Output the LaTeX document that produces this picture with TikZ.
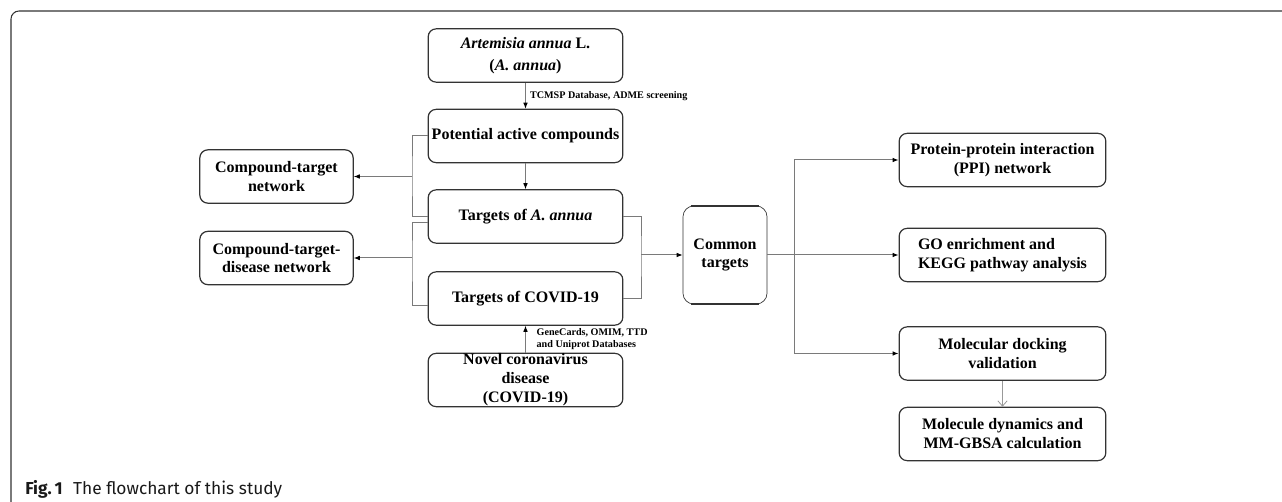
\documentclass[tikz,border=0pt]{standalone}
\usepackage{fontspec}
\setmainfont{Liberation Serif}
\newfontfamily\capfont{Fira Sans}
\usetikzlibrary{arrows.meta,calc,positioning}
\definecolor{edge}{HTML}{7A7A7A}
\definecolor{rim}{HTML}{333333}

\begin{document}
\begin{tikzpicture}[x=0.75pt,y=-0.75pt,
  box/.style={rectangle,draw=rim,line width=0.9pt,rounded corners=6pt,align=center,font=\bfseries\fontsize{12}{14.2}\selectfont,inner sep=0pt,minimum height=40pt},
  mainbox/.style={box,minimum width=146pt},
  sidebox/.style={box,minimum width=115pt},
  resbox/.style={box,minimum width=155pt},
  link/.style={draw=edge,line width=0.75pt},
  arrow/.style={link,-{Latex[length=4.5pt,width=3.5pt,color=black]}},
  thinarrow/.style={draw=black!40,line width=0.6pt,-{Straight Barb[length=4pt,width=7pt]}},
  lbl/.style={font=\bfseries\fontsize{7.6}{9}\selectfont,align=left,inner sep=1pt},
  capt/.style={font=\capfont\fontsize{13}{15}\selectfont,inner sep=0pt,text=black!90},
]
\useasboundingbox (0,0) rectangle (1282,502);
% frame of the figure
\draw[rim,line width=0.8pt,rounded corners=6pt] (11,502) -- (11,11) -- (1282,11);

% CENTRE COLUMN
\node[mainbox] (art) at (525.5,55.5) {\textit{Artemisia annua} L.\\[2pt](\textit{A. annua})};
\node[mainbox] (pac) at (525.5,136) {Potential active compounds};
\node[mainbox] (taa) at (525.5,216.5) {Targets of \textit{A. annua}};
\node[mainbox] (tcv) at (525.5,298.5) {Targets of COVID-19};
\node[mainbox] (ncd) at (525.5,380) {Novel coronavirus\\disease\\(COVID-19)};

% NETWORKS ON THE LEFT
\node[sidebox] (ctn) at (276.5,176.5) {Compound-target\\network};
\node[sidebox] (ctdn) at (276.5,258) {Compound-target-\\disease network};

% COMMON TARGETS
\node[box,rounded corners=8pt,line width=0.5pt,minimum width=63pt,minimum height=73.5pt] (com) at (725,255) {Common\\targets};
\draw[rim,line width=1.3pt] ([xshift=6pt]com.north west) -- ([xshift=-6pt]com.north east);
\draw[rim,line width=1.3pt] ([xshift=6pt]com.south west) -- ([xshift=-6pt]com.south east);

% ANALYSES ON THE RIGHT
\node[resbox] (ppi) at (1002.5,160) {Protein-protein interaction\\(PPI) network};
\node[resbox,align=left] (go) at (1002.5,255) {GO enrichment and\\KEGG pathway analysis};
\node[resbox] (dock) at (1002.5,353.5) {Molecular docking\\validation};
\node[resbox] (md) at (1002.5,434) {Molecule dynamics and\\MM-GBSA calculation};

% junctions
\coordinate (jl1) at (412,176.5);
\coordinate (jl2) at (412,258);
\coordinate (jr) at (641,255);
\coordinate (jf) at (794,255);

% EDGES
\draw[arrow] (art) -- (pac) node[lbl,midway,right,xshift=2pt]{TCMSP Database, ADME screening};
\draw[arrow] (pac) -- (taa);
\draw[arrow] (ncd) -- (tcv) node[lbl,midway,right,xshift=7pt]{GeneCards, OMIM, TTD\\and Uniprot Databases};
\draw[link] (pac.west) -| (jl1) |- (taa.west);
\draw[link] ([yshift=-4.5pt]taa.west) -| (jl2) |- ([yshift=-5pt]tcv.west);
\draw[arrow] (jl1) -- (ctn);
\draw[arrow] (jl2) -- (ctdn);
\draw[link] (taa.east) -| (jr) |- (tcv.east);
\draw[arrow] (jr) -- (com);
\draw[arrow] (com) -- (go);
\draw[arrow] (jf) |- (ppi.west);
\draw[arrow] (jf) |- (dock.west);
\draw[thinarrow] (dock) -- (md);

% caption
\node[capt,anchor=west] (cap) at (25,489) {\textbf{Fig.\,1}\hspace{0.6em}The flowchart of this study};
\end{tikzpicture}
\end{document}
